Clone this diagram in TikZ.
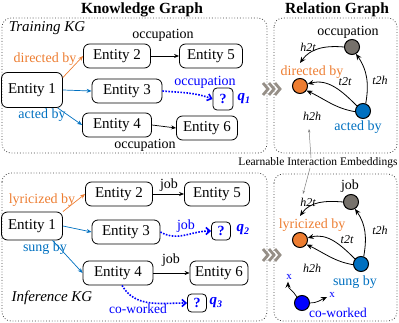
\documentclass[tikz,border=0pt]{standalone}
\usepackage{fontspec}
\setmainfont{Liberation Serif}
\usetikzlibrary{arrows.meta,calc}
\definecolor{orC}{RGB}{237,125,49}
\definecolor{blC}{RGB}{0,112,192}
\definecolor{pbC}{RGB}{0,0,255}
\definecolor{grN}{RGB}{118,113,107}
\definecolor{chC}{RGB}{150,143,135}
\newcommand{\myfs}[1]{\fontsize{#1}{#1}\selectfont}
\begin{document}
\begin{tikzpicture}[x=1pt,y=1pt,
  ent/.style={draw,rounded corners=6pt,line width=0.8pt,inner sep=0pt,minimum height=24pt,font=\myfs{15}},
  qbox/.style={draw,rounded corners=4pt,line width=0.8pt,inner sep=0pt,minimum width=19pt,minimum height=18pt,text=pbC,font=\myfs{14}\bfseries},
  lbl/.style={inner sep=0pt,font=\myfs{14}},
  qlbl/.style={inner sep=0pt,text=pbC,font=\myfs{15}\bfseries\itshape},
  cont/.style={draw=black!75,dotted,line width=0.8pt,rounded corners=9pt},
  rel/.style={circle,draw,line width=1pt,minimum size=15pt,inner sep=0pt},
  arr/.style={-{Stealth[length=5pt,width=4pt]},line width=0.7pt},
  darr/.style={-{Straight Barb[length=4pt,width=7pt]},pbC,dash pattern=on 1.6pt off 1.4pt,line width=1.6pt},
  rarr/.style={-{Stealth[length=6pt,width=5pt]},line width=0.8pt},
  itl/.style={inner sep=0pt,font=\myfs{12}\itshape},
  chev/.style={chC,line width=2.8pt},
]
\useasboundingbox (0,0) rectangle (399,-323);

% titles
\node[inner sep=0pt,font=\myfs{15.5}\bfseries] (t1) at (142,-10) {Knowledge Graph};
\node[inner sep=0pt,font=\myfs{15.5}\bfseries] (t2) at (337,-10) {Relation Graph};

% containers
\draw[cont] (2,-18) rectangle (267,-153);
\draw[cont] (274,-18) rectangle (397,-153);
\draw[cont] (2,-173) rectangle (267,-321);
\draw[cont] (274,-174) rectangle (397,-321);

% chevrons
\foreach \cx/\cy in {268/89,274/89,280/89,268/255,274/255,280/255}{
  \draw[chev] (\cx-5,-\cy+6) -- (\cx,-\cy) -- (\cx-5,-\cy-6);
}

% ---------------- Training KG ----------------
\node[inner sep=0pt,font=\myfs{15}\itshape] (tkg) at (47,-28) {Training KG};
\node[ent,minimum width=61pt,minimum height=35pt] (a1) at (32,-90) {Entity 1};
\node[ent,minimum width=67pt] (a2) at (117,-56) {Entity 2};
\node[ent,minimum width=63pt] (a5) at (211,-56) {Entity 5};
\node[ent,minimum width=70pt] (a3) at (127,-91) {Entity 3};
\node[ent,minimum width=69pt] (a4) at (117,-125) {Entity 4};
\node[ent,minimum width=61pt] (a6) at (207,-128) {Entity 6};
\node[qbox,minimum width=20pt,minimum height=22pt] (aq) at (223,-99) {?};
\node[qlbl] (aql) at (244,-99) {q\textsubscript{\myfs{10}1}};

\draw[arr,orC] (a1.22) -- (a2.west);
\draw[arr,blC] (a1.east) -- (a3.west);
\draw[arr,blC] (a1.-35) -- (a4.west);
\draw[arr] (a2) -- (a5);
\draw[arr] (a4.east) -- (a6.west);
\draw[darr] (a3.east) to[out=-5,in=160] (aq.west);

\node[lbl] (la1) at (163,-35) {occupation};
\node[lbl] (la2) at (145,-145) {occupation};
\node[lbl,text=orC] (la3) at (45,-59) {directed by};
\node[lbl,text=blC] (la4) at (42,-115) {acted by};
\node[lbl,text=pbC] (la5) at (205,-82) {occupation};

% ---------------- Inference KG ----------------
\node[inner sep=0pt,font=\myfs{15}\itshape] (ikg) at (52,-298) {Inference KG};
\node[ent,minimum width=61pt,minimum height=28pt] (b1) at (32,-226) {Entity 1};
\node[ent,minimum width=67pt] (b2) at (119,-194) {Entity 2};
\node[ent,minimum width=65pt] (b5) at (217,-194) {Entity 5};
\node[ent,minimum width=68pt] (b3) at (126,-232) {Entity 3};
\node[ent,minimum width=70pt] (b4) at (118,-273) {Entity 4};
\node[ent,minimum width=58pt] (b6) at (219,-273) {Entity 6};
\node[qbox] (bq2) at (221,-231) {?};
\node[qbox] (bq3) at (197,-303) {?};
\node[qlbl] (bql2) at (243,-230) {q\textsubscript{\myfs{10}2}};
\node[qlbl] (bql3) at (216,-303) {q\textsubscript{\myfs{10}3}};

\draw[arr,orC] (b1.25) -- (b2.west);
\draw[arr,blC] (b1.east) -- (b3.west);
\draw[arr,blC] (b1.-35) -- (b4.west);
\draw[arr] (b2) -- (b5);
\draw[arr] (b4) -- (b6);
\draw[darr] (b3.east) to[out=-30,in=180] (bq2.west);
\draw[darr] (b4.-72) to[out=-60,in=180] (bq3.west);

\node[lbl] (lb1) at (169,-185) {job};
\node[lbl,text=pbC] (lb2) at (186,-226) {job};
\node[lbl] (lb3) at (171,-260) {job};
\node[lbl,text=orC] (lb4) at (42,-200) {lyricized by};
\node[lbl,text=blC] (lb5) at (45,-248) {sung by};
\node[lbl,text=pbC,font=\myfs{13.5}] (lb6) at (138,-309) {co-worked};

% ---------------- Relation graph (top) ----------------
\node[rel,fill=grN] (occ) at (352,-47) {};
\node[rel,fill=orC] (dir) at (300,-86) {};
\node[rel,fill=blC] (act) at (363,-111) {};
\node[lbl] (locc) at (348,-32) {occupation};
\node[lbl,text=orC] (ldir) at (312,-72) {directed by};
\node[lbl,text=blC] (lact) at (358,-127) {acted by};
\coordinate (dtip) at (300,-63);
\draw[rarr] (occ.west) to[out=175,in=55] (dtip);
\draw[rarr] (act.70) to[out=80,in=-55] (occ.-60);
\draw[rarr] (act.140) to[out=135,in=15] (dir.15);
\draw[rarr] (act.185) to[out=170,in=-25] (dir.-35);
\node[itl] (h2ta) at (308,-47) {h2t};
\node[itl] (t2ta) at (345,-82) {t2t};
\node[itl] (t2ha) at (380,-80) {t2h};
\node[itl] (h2ha) at (312,-116) {h2h};

% ---------------- Relation graph (bottom) ----------------
\node[rel,fill=grN] (job) at (351,-202) {};
\node[rel,fill=orC] (lyr) at (300,-240) {};
\node[rel,fill=blC] (sung) at (361,-264) {};
\node[rel,fill=pbC] (cow) at (302,-303) {};
\node[lbl] (ljob) at (350,-186) {job};
\node[lbl,text=orC] (llyr) at (312,-225) {lyricized by};
\node[lbl,text=blC] (lsung) at (355,-282) {sung by};
\node[lbl,text=pbC,font=\myfs{13.5}] (lcow) at (338,-313) {co-worked};
\coordinate (ltip) at (300,-216);
\draw[rarr] (job.west) to[out=175,in=55] (ltip);
\draw[rarr] (sung.70) to[out=80,in=-55] (job.-60);
\draw[rarr] (sung.140) to[out=135,in=15] (lyr.15);
\draw[rarr] (sung.185) to[out=170,in=-25] (lyr.-35);
\node[itl] (h2tb) at (308,-202) {h2t};
\node[itl] (t2tb) at (347,-240) {t2t};
\node[itl] (t2hb) at (380,-230) {t2h};
\node[itl] (h2hb) at (312,-268) {h2h};
\node[inner sep=0pt,text=pbC,font=\myfs{11}] (x1) at (289,-277) {x};
\node[inner sep=0pt,text=pbC,font=\myfs{11}] (x2) at (332,-295) {x};
\draw[rarr,line width=0.7pt] (cow.130) to[out=120,in=-90] ($(x1.south)+(-1,-2)$);
\draw[rarr,line width=0.7pt] (cow.east) to[out=0,in=205] ($(x2.west)+(-2,-2)$);

% learnable interaction embeddings
\node[inner sep=1pt,fill=white,font=\myfs{11.5}] (lie) at (318,-163) {Learnable Interaction Embeddings};
\draw[-{Stealth[length=3.5pt,width=2.5pt]},gray,line width=0.5pt] (311,-158) -- (309,-129);
\draw[-{Stealth[length=3.5pt,width=2.5pt]},gray,line width=0.5pt] (310,-168) -- (303,-194);
\end{tikzpicture}
\end{document}
